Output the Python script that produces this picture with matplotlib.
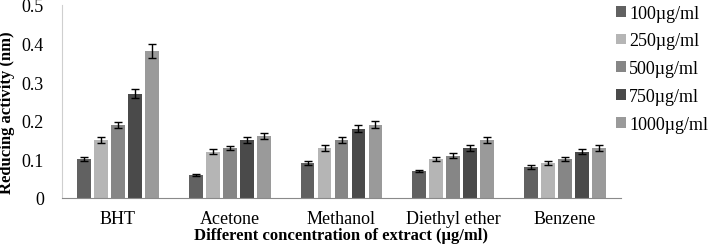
import matplotlib.pyplot as plt
import numpy as np

plt.rcParams['font.family'] = ['Liberation Serif', 'DejaVu Serif']

solvents = ['BHT', 'Acetone', 'Methanol', 'Diethyl ether', 'Benzene']
conc_labels = ['100µg/ml', '250µg/ml', '500µg/ml', '750µg/ml', '1000µg/ml']

# values per concentration, one entry per solvent
v100 = [0.10, 0.06, 0.09, 0.07, 0.08]
v250 = [0.15, 0.12, 0.13, 0.10, 0.09]
v500 = [0.19, 0.13, 0.15, 0.11, 0.10]
v750 = [0.27, 0.15, 0.18, 0.13, 0.12]
v1000 = [0.38, 0.16, 0.19, 0.15, 0.13]

e100 = [0.005, 0.003, 0.005, 0.003, 0.005]
e250 = [0.008, 0.006, 0.007, 0.005, 0.005]
e500 = [0.008, 0.006, 0.007, 0.006, 0.005]
e750 = [0.012, 0.008, 0.009, 0.007, 0.007]
e1000 = [0.018, 0.008, 0.009, 0.008, 0.007]

series = [v100, v250, v500, v750, v1000]
errs = [e100, e250, e500, e750, e1000]
colors = ['#616161', '#b5b5b5', '#868686', '#4a4a4a', '#9a9a9a']

fig = plt.figure(figsize=(7.08, 2.51), dpi=100)
ax = fig.add_axes([62 / 708, 52 / 251, 559 / 708, 193 / 251])

x = np.arange(len(solvents))
slot = 0.152
w = 0.122
for i, (vals, er) in enumerate(zip(series, errs)):
    ax.bar(x + (i - 2) * slot, vals, w, yerr=er, color=colors[i],
           label=conc_labels[i], error_kw=dict(ecolor='black', elinewidth=1, capsize=3, capthick=1))

ax.set_xlim(-0.5, 4.5)
ax.set_ylim(0, 0.5)
ax.set_yticks([0, 0.1, 0.2, 0.3, 0.4, 0.5])
ax.set_yticklabels(['0', '0.1', '0.2', '0.3', '0.4', '0.5'])
ax.set_xticks(x)
ax.set_xticklabels(solvents)
ax.tick_params(axis='both', length=0, labelsize=13)
ax.tick_params(axis='y', pad=13)
ax.tick_params(axis='x', pad=9)
for s in ['top', 'right']:
    ax.spines[s].set_visible(False)
ax.spines['left'].set_color('#cfcfcf')
ax.spines['bottom'].set_color('#8a8a8a')

ax.set_ylabel('Reducing activity (nm)', fontsize=12, fontweight='bold')
ax.yaxis.set_label_coords(-0.084, 0.448)
ax.set_xlabel('Different concentration of extract (µg/ml)', fontsize=12, fontweight='bold')
ax.xaxis.set_label_coords(0.5, -0.15)

fig.legend(loc='upper left', bbox_to_anchor=(614 / 708, 0.985), frameon=False, fontsize=13,
           handlelength=0.55, handleheight=0.55, handletextpad=0.2, labelspacing=0.6,
           borderaxespad=0, borderpad=0.1)

fig.savefig('out.png', dpi=100)
